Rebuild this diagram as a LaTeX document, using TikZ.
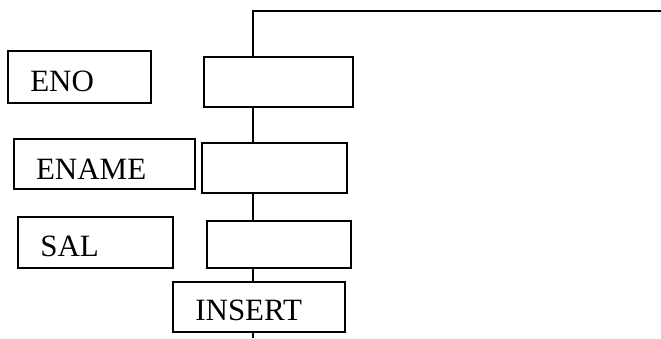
\documentclass[tikz,border=0pt]{standalone}
\usepackage{fontspec}
\setmainfont{Liberation Serif}
\begin{document}
\begin{tikzpicture}[x=1pt,y=-1pt,line width=2pt,
  fbox/.style={draw,rectangle,inner sep=0pt,line width=1.8pt},
  lbl/.style={anchor=base west,inner sep=0pt,font=\fontsize{31}{37}\selectfont}]
\useasboundingbox (0,0) rectangle (661,338);
% field boxes (names)
\node[fbox,minimum width=142.4pt,minimum height=52.3pt] (eno) at (79.5,77.2) {};
\node[fbox,minimum width=180.7pt,minimum height=50.3pt] (ename) at (104.7,164.2) {};
\node[fbox,minimum width=154.4pt,minimum height=50.4pt] (sal) at (95.5,242.5) {};
% input boxes
\node[fbox,minimum width=148.7pt,minimum height=50.6pt] (b1) at (278.4,82) {};
\node[fbox,minimum width=144.4pt,minimum height=50pt] (b2) at (274.5,168.3) {};
\node[fbox,minimum width=144pt,minimum height=46.7pt] (b3) at (278.7,244.3) {};
\node[fbox,minimum width=171.7pt,minimum height=50pt] (ins) at (259.2,306.7) {};
% labels
\node[lbl] (tEno) at (29.3,91.7) {ENO};
\node[lbl] (tEname) at (35,179.3) {ENAME};
\node[lbl] (tSal) at (39.3,256.7) {SAL};
\node[lbl] (tIns) at (194.3,320) {INSERT};
% spine
\coordinate (sp) at (253,0);
\coordinate (tr) at (661,11);
\coordinate (tl) at (253,11);
\coordinate (bot) at (253,338);
\draw (tr) -- (tl) -- (b1.north -| sp);
\draw (b1.south -| sp) -- (b2.north -| sp);
\draw (b2.south -| sp) -- (b3.north -| sp);
\draw (b3.south -| sp) -- (ins.north -| sp);
\draw (ins.south -| sp) -- (bot);
\end{tikzpicture}
\end{document}
